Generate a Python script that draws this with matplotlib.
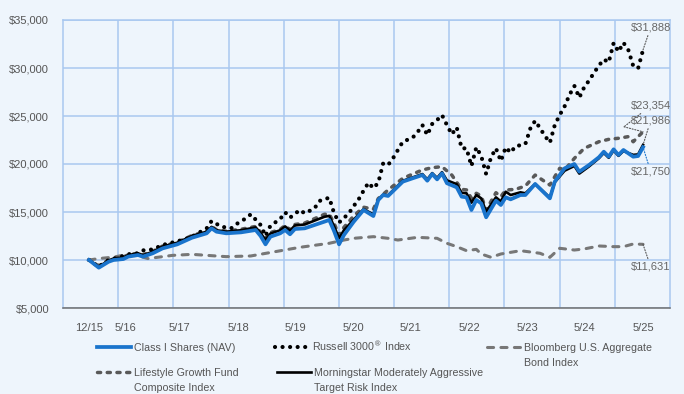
import numpy as np
import matplotlib
matplotlib.use("Agg")
import matplotlib.pyplot as plt
from matplotlib.lines import Line2D
from matplotlib.transforms import offset_copy

plt.rcParams['font.family'] = ['Liberation Sans', 'DejaVu Sans']

# months after 12/2015 and hypothetical growth of $10,000
fund_m = [0, 2, 4, 5, 7, 8, 10, 11, 13, 15, 18, 21, 24, 25, 26, 28, 31, 34, 35, 36, 37, 39, 40, 41, 42, 44,
          48, 49, 50, 51, 52, 54, 56, 58, 59, 60, 61, 64, 66, 68, 69, 70, 71, 72, 73, 75, 76, 77, 78, 79, 80,
          81, 83, 84, 85, 86, 88, 89, 91, 94, 95, 96, 97, 99, 100, 102, 104, 105, 106, 107, 108, 109, 111, 112, 113]
fund_v = [10000, 9200, 9820, 10000, 10100, 10350, 10520, 10350, 10700, 11210, 11630, 12320, 12780, 13300, 12950,
          12780, 12880, 13125, 12500, 11630, 12430, 12780, 13125, 12680, 13230, 13300, 13990, 14170, 13000, 11630,
          12600, 13990, 15210, 14580, 16250, 16770, 16670, 18160, 18510, 18850, 18260, 18960, 18400, 19030, 18000,
          17570, 16600, 16530, 15210, 16250, 15900, 14450, 16180, 15730, 16530, 16320, 16770, 16770, 17920, 16420,
          18160, 18850, 19550, 20000, 19200, 19900, 20700, 21280, 20760, 21530, 20940, 21460, 20760, 20830, 21750]

mstar_m = fund_m
mstar_v = [10000, 9300, 9950, 10150, 10250, 10500, 10700, 10500, 10850, 11400, 11800, 12500, 12950, 13450, 13100,
           12950, 13100, 13400, 12800, 12100, 12750, 13100, 13500, 13050, 13600, 13700, 14500, 14600, 13500, 12260,
           13100, 14200, 15300, 14750, 16300, 16800, 16750, 18250, 18600, 18950, 18400, 19050, 18550, 19150, 18300,
           17900, 17000, 16950, 15970, 16770, 16420, 15030, 16530, 16100, 17110, 16770, 17050, 16950, 17920, 16500,
           18100, 18700, 19300, 19800, 19000, 19750, 20600, 21150, 20650, 21400, 20850, 21350, 20950, 21000, 21986]

life_m = [0, 2, 4, 5, 7, 8, 10, 11, 13, 15, 18, 21, 24, 25, 26, 28, 31, 34, 35, 36, 37, 39, 40, 41, 42, 44,
          48, 49, 50, 51, 52, 54, 56, 58, 59, 61, 64, 68, 70, 72, 74, 76, 77, 78, 79, 80, 81, 83, 84, 85, 87,
          89, 91, 94, 96, 97, 99, 101, 104, 106, 108, 110, 111, 112, 113]
life_v = [10000, 9400, 10000, 10200, 10300, 10550, 10700, 10550, 10900, 11450, 11850, 12550, 13000, 13500, 13150,
          13000, 13200, 13500, 12900, 12200, 12850, 13200, 13600, 13150, 13700, 13850, 14760, 14800, 13800, 12600,
          13400, 14600, 15500, 15300, 16400, 17290, 18510, 19380, 19620, 19720, 18850, 17360, 17300, 16420, 16950,
          16670, 15210, 17010, 16600, 17290, 17360, 17710, 18850, 17810, 19550, 19380, 20590, 21630, 22320, 22570,
          22680, 22850, 22320, 22850, 23354]

russ_m = [0, 2, 4, 6, 8, 10, 11, 13, 15, 19, 21, 24, 25, 27, 29, 30, 32, 33, 35, 36, 37, 39, 40, 41, 43, 44,
          46, 47, 49, 50, 51, 53, 54, 55, 56, 57, 58, 59, 60, 61, 62, 63, 64, 66, 67, 68, 69, 70, 71, 72, 73,
          74, 75, 76, 77, 78, 79, 80, 81, 82, 83, 84, 85, 86, 87, 88, 89, 90, 91, 92, 93, 94, 95, 96, 97, 98,
          99, 100, 101, 102, 103, 104, 105, 106, 107, 108, 109, 110, 111, 112, 113]
russ_v = [10000, 9300, 10000, 10250, 10600, 10700, 11000, 11100, 11560, 12080, 12430, 13300, 14060, 13470, 13300,
          13720, 14340, 14760, 13650, 12500, 13570, 14270, 14970, 14410, 15210, 14860, 15380, 16150, 16490, 14860,
          13900, 14860, 15625, 16320, 17220, 18050, 17470, 18050, 20070, 19900, 20590, 21460, 22320, 22740, 23300,
          24060, 23020, 24170, 24580, 25100, 24060, 23090, 23820, 21630, 21630, 19790, 21740, 20830, 18960, 20700,
          21630, 20310, 21740, 21180, 21870, 21950, 22080, 23680, 24510, 23720, 22920, 22220, 24060, 25100, 26000,
          27200, 28130, 26910, 28000, 28700, 29500, 30250, 30900, 30590, 32600, 31700, 32640, 31880, 30210, 29970,
          31888]

bond_m = [0, 2, 5, 7, 10, 12, 17, 21, 25, 28, 33, 38, 43, 49, 52, 54, 58, 61, 63, 67, 71, 73, 75, 77, 79, 80,
          82, 84, 88, 92, 94, 96, 99, 101, 104, 107, 109, 111, 113]
bond_v = [10000, 10150, 10300, 10500, 10450, 10150, 10480, 10590, 10450, 10350, 10420, 10870, 11320, 11740, 12080,
          12260, 12430, 12260, 12080, 12360, 12260, 11740, 11390, 10970, 11110, 10625, 10280, 10625, 10970, 10700,
          10280, 11220, 11040, 11150, 11460, 11390, 11390, 11670, 11631]

tick_pos = [0, 7.5, 18.5, 30.5, 42, 54, 65.5, 77.5, 89.5, 101, 113]
tick_lab = ["12/15", "5/16", "5/17", "5/18", "5/19", "5/20", "5/21", "5/22", "5/23", "5/24", "5/25"]

BG = "#eef5fc"
GRID = "#a9c8f0"
TXT = "#555555"
BLUE = "#1a74cc"

fig = plt.figure(figsize=(6.84, 3.94), dpi=100, facecolor=BG)
ax = fig.add_axes([63/684, 1-308/394, 607/684, 288/394], facecolor=BG)

xmin, xmax = -5.3, 118.5
ax.set_xlim(xmin, xmax)
ax.set_ylim(5000, 35000)

# grid
for gx in np.linspace(xmin, xmax, 12)[1:-1]:
    ax.axvline(gx, color=GRID, lw=1.1, zorder=0)
ax.set_yticks(np.arange(5000, 35001, 5000))
ax.set_yticklabels(["${:,.0f}".format(v) for v in np.arange(5000, 35001, 5000)])
ax.yaxis.grid(True, color=GRID, lw=1.1, zorder=0)
ax.set_axisbelow(True)
for s in ["left", "top", "right"]:
    ax.spines[s].set_color(GRID)
    ax.spines[s].set_linewidth(1.1)
ax.spines["bottom"].set_color("#6e6e6e")
ax.spines["bottom"].set_linewidth(1.1)

ax.set_xticks(tick_pos)
ax.set_xticklabels(tick_lab)
ax.tick_params(axis="both", length=0, labelsize=8, labelcolor=TXT)
ax.tick_params(axis="x", pad=11)
ax.tick_params(axis="y", pad=10)

# series
bond_ls = (0, (2.0, 2.4))
life_ls = (0, (0.9, 1.9))
russ_ls = (0, (0.01, 1.8))
ax.plot(bond_m, bond_v, color="#777777", lw=2.2, ls=bond_ls, dash_capstyle="round", zorder=2)
ax.plot(life_m, life_v, color="#595959", lw=2.5, ls=life_ls, dash_capstyle="round", zorder=3)
ax.plot(russ_m, russ_v, color="black", lw=3.0, ls=russ_ls, dash_capstyle="round", zorder=4)
ax.plot(mstar_m, mstar_v, color="black", lw=1.9, zorder=5)
ax.plot(fund_m, fund_v, color=BLUE, lw=2.7, zorder=6)

# end labels
leader = dict(arrowstyle="-", color="#555555", lw=0.8, linestyle=(0, (1, 1.5)), shrinkA=0, shrinkB=0)


def end_label(m, v, text, dy, col=None, bend=None):
    props = dict(leader)
    if col:
        props["color"] = col
    xy, coords = (m, v), "data"
    if bend is not None:
        # leader with a kink: first segment from the end point to the bend
        ax.annotate("", xy=(m, v), xytext=bend, textcoords="offset pixels", arrowprops=props)
        coords = offset_copy(ax.transData, fig=fig, x=bend[0], y=bend[1], units="dots")
        dy = dy - bend[1]
        dx = 7.5 - bend[0]
    else:
        dx = 7.5
    ax.annotate(text, xy=xy, xycoords=coords, xytext=(dx, dy), textcoords="offset pixels",
                ha="center", va="center", fontsize=8, color="#666666", arrowprops=props)


end_label(russ_m[-1], russ_v[-1], "$31,888", 22)
end_label(life_m[-1], life_v[-1], "$23,354", 26, bend=(-19, 5))
end_label(mstar_m[-1], mstar_v[-1], "$21,986", 24)
end_label(fund_m[-1], fund_v[-1], "$21,750", -24, col=BLUE)
end_label(bond_m[-1], bond_v[-1], "$11,631", -22)

# legend drawn by hand
def fx(px):
    return px / 684


def fy(py):
    return 1 - py / 394


legend_items = [
    (97, 347, dict(color=BLUE, lw=2.7), "Class I Shares (NAV)"),
    (275, 347, dict(color="black", lw=3.0, ls=russ_ls, dash_capstyle="round"), "Russell 3000$^{\u00ae}$ Index"),
    (487, 347, dict(color="#777777", lw=2.2, ls=bond_ls, dash_capstyle="round"), "Bloomberg U.S. Aggregate\nBond Index"),
    (97, 372, dict(color="#595959", lw=2.5, ls=life_ls, dash_capstyle="round"), "Lifestyle Growth Fund\nComposite Index"),
    (277, 372, dict(color="black", lw=1.9), "Morningstar Moderately Aggressive\nTarget Risk Index"),
]
for px, py, style, label in legend_items:
    fig.add_artist(Line2D([fx(px), fx(px + 34)], [fy(py), fy(py)], **style))
    if "\n" in label:
        fig.text(fx(px + 37), fy(py - 4), label, ha="left", va="top", fontsize=7.7,
                 color=TXT, linespacing=1.6)
    else:
        fig.text(fx(px + 37), fy(py + 4), label, ha="left", va="baseline", fontsize=7.7,
                 color=TXT)

fig.savefig("out.png", dpi=100, facecolor=BG)
